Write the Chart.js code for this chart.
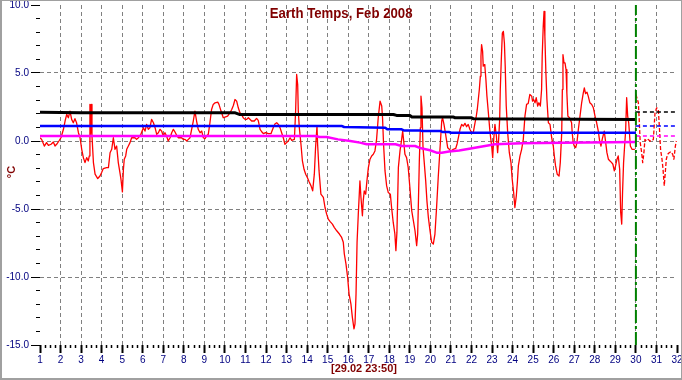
<!DOCTYPE html>
<html>
<head>
<meta charset="utf-8">
<script src="https://cdn.jsdelivr.net/npm/chart.js@4/dist/chart.umd.min.js"></script>
<style>
  body { margin: 0; background: #fff; }
  #wrap { position: relative; width: 682px; height: 380px; overflow: hidden; }
  #chart { position: absolute; left: 0; top: 0; }
  .lbl { position: absolute; color: #800000; font-family: Arial, "Liberation Sans", sans-serif; font-weight: bold; white-space: nowrap; }
  #title { left: 0; width: 682px; top: 4px; text-align: center; font-size: 15px; line-height: 17px; }
  #title span { display: inline-block; transform: scaleX(0.88); }
  #xtitle { left: 364px; top: 362px; font-size: 11px; line-height: 13px; transform: translateX(-50%); }
  #ytitle { left: 11px; top: 172px; font-size: 11px; line-height: 13px; transform: translate(-50%, -50%) rotate(-90deg); }
  #frame { position: absolute; left: 0; top: 0; width: 682px; height: 380px; box-sizing: border-box;
           border: 1px solid #a0a0a0; border-left-width: 2px; border-bottom-width: 2px; pointer-events: none; }
</style>
</head>
<body>
<div id="wrap">
  <canvas id="chart" width="682" height="380"></canvas>
  <div class="lbl" id="title"><span>Earth Temps, Feb 2008</span></div>
  <div class="lbl" id="xtitle">[29.02 23:50]</div>
  <div class="lbl" id="ytitle">°C</div>
  <div id="frame"></div>
</div>
<script>
// measured temps (red), day of month -> °C
let redDays = [1.00,1.08,1.21,1.32,1.41,1.54,1.65,1.73,1.81,1.92,2.02,2.14,2.22,2.30,2.38,2.46,2.54,2.62,2.70,2.78,2.87,2.95,
  3.03,3.11,3.19,3.27,3.35,3.40,3.43,3.46,3.49,3.53,3.60,3.68,3.81,3.92,4.00,4.08,4.24,4.33,4.41,4.49,4.57,4.65,4.73,4.81,4.89,4.94,
  5.01,5.06,5.10,5.17,5.22,5.30,5.38,5.46,5.62,5.70,5.79,5.91,6.03,6.11,6.19,6.27,6.35,6.43,6.52,6.60,6.68,6.76,6.84,6.92,
  7.00,7.08,7.16,7.24,7.33,7.41,7.49,7.57,7.65,7.73,7.89,7.97,8.06,8.14,8.22,8.30,8.38,8.46,8.54,8.62,8.70,8.79,8.87,8.95,
  9.03,9.11,9.19,9.27,9.35,9.43,9.52,9.65,9.71,9.81,9.92,10.03,10.13,10.25,10.33,10.41,10.49,10.57,10.65,10.73,10.81,10.89,10.98,
  11.06,11.14,11.30,11.43,11.54,11.62,11.71,11.79,11.87,11.98,12.11,12.24,12.35,12.44,12.52,12.60,12.68,12.76,12.84,12.92,
  13.00,13.08,13.17,13.25,13.38,13.44,13.49,13.54,13.57,13.62,13.70,13.77,13.85,13.93,14.01,14.09,14.19,14.27,14.35,14.41,14.48,14.51,
  14.58,14.67,14.79,14.87,14.95,15.03,15.11,15.23,15.32,15.44,15.57,15.68,15.76,15.81,15.89,15.97,16.04,16.13,16.20,16.28,16.33,
  16.38,16.43,16.49,16.57,16.62,16.69,16.73,16.78,16.85,16.91,16.98,17.06,17.14,17.22,17.30,17.38,17.46,17.55,17.63,17.67,17.72,
  17.79,17.87,17.95,18.05,18.11,18.19,18.27,18.32,18.37,18.44,18.52,18.60,18.65,18.70,18.76,18.84,18.92,19.00,19.09,19.17,19.25,
  19.33,19.38,19.41,19.46,19.51,19.54,19.59,19.64,19.70,19.77,19.83,19.90,19.98,20.06,20.14,20.22,20.30,20.38,20.46,20.55,20.59,
  20.66,20.74,20.84,20.92,21.00,21.11,21.23,21.30,21.36,21.44,21.52,21.60,21.68,21.76,21.84,21.92,22.01,22.09,22.17,22.22,22.28,
  22.33,22.38,22.43,22.46,22.49,22.54,22.57,22.62,22.65,22.70,22.75,22.82,22.88,22.93,22.98,23.03,23.08,23.14,23.21,23.27,23.32,
  23.37,23.40,23.45,23.50,23.55,23.60,23.64,23.69,23.76,23.84,23.92,23.98,24.05,24.11,24.18,24.23,24.28,24.36,24.44,24.52,24.60,
  24.68,24.76,24.84,24.93,24.97,25.02,25.09,25.15,25.22,25.28,25.35,25.41,25.44,25.49,25.53,25.57,25.62,25.67,25.74,25.82,25.90,
  25.98,26.03,26.09,26.17,26.26,26.32,26.39,26.42,26.45,26.50,26.55,26.60,26.64,26.69,26.77,26.87,26.90,26.95,27.00,27.07,27.13,
  27.20,27.28,27.36,27.44,27.49,27.55,27.62,27.68,27.76,27.85,27.93,28.01,28.09,28.17,28.23,28.30,28.36,28.46,28.53,28.59,28.66,
  28.74,28.82,28.88,28.95,29.01,29.08,29.14,29.21,29.26,29.31,29.35,29.40,29.45,29.50,29.55,29.60,29.65,29.73,29.81,29.95];
let redTemps = [0.24,0.12,-0.37,-0.12,-0.32,-0.24,-0.07,-0.37,-0.24,0.00,0.24,0.86,1.47,1.96,1.71,2.20,1.59,1.34,1.64,1.34,0.61,0.24,
  -0.61,-1.22,-1.59,-1.22,-1.47,-1.10,2.69,0.50,2.69,0.37,-1.59,-2.44,-2.76,-2.57,-2.32,-2.03,-1.96,-1.96,-0.86,-0.61,0.24,-0.61,-0.37,-1.59,-2.32,-2.81,
  -3.74,-2.08,-1.34,-1.10,-0.61,-0.37,-0.12,0.24,0.24,0.12,0.24,0.49,0.98,0.73,1.22,0.86,0.98,1.59,1.34,0.98,0.49,0.61,0.86,0.73,
  0.37,0.61,0.37,0.00,0.24,0.61,0.86,0.66,0.42,0.24,0.24,0.12,0.12,0.00,0.12,0.24,0.86,1.47,2.20,1.47,0.86,0.61,0.73,0.24,
  0.17,0.37,0.49,1.34,2.32,2.69,2.81,2.86,2.69,2.20,1.71,1.78,1.83,2.08,2.32,2.61,3.05,2.93,2.44,2.08,1.96,1.71,1.59,
  1.59,1.71,1.47,1.47,1.66,1.52,0.86,0.68,0.54,0.61,0.54,0.54,0.98,1.27,1.34,1.22,0.98,0.61,0.24,-0.24,
  -0.12,0.00,0.24,0.05,0.12,2.20,4.89,4.15,2.20,0.98,-0.24,-1.47,-2.08,-2.44,-2.69,-2.98,-3.30,-3.67,-2.44,-0.49,1.10,-0.24,
  -2.20,-3.91,-4.15,-4.89,-5.38,-5.74,-5.91,-6.11,-6.35,-6.60,-6.84,-7.09,-7.45,-8.31,-9.04,-10.02,-11.24,-11.97,-12.95,-13.81,-13.44,
  -11.24,-7.45,-5.38,-2.93,-4.15,-5.50,-4.40,-3.67,-3.91,-2.93,-1.96,-1.34,-1.10,-0.98,-0.73,0.12,1.71,2.93,2.57,1.71,-0.24,
  -2.20,-3.30,-3.79,-3.91,-4.89,-5.99,-6.84,-8.06,-6.72,-1.96,-0.73,0.12,0.73,0.00,-0.98,-1.22,-1.96,-3.42,-5.13,-5.86,-6.60,
  -7.70,-6.84,-4.89,-1.47,0.98,3.30,2.44,-0.49,-1.59,-2.93,-4.40,-5.62,-6.60,-7.45,-7.58,-6.84,-4.89,-2.69,-0.73,1.47,1.71,
  1.22,0.49,-0.49,-0.61,-0.73,-0.61,-0.55,-0.20,0.24,0.86,1.22,1.10,1.30,1.05,1.22,0.86,0.61,0.66,1.34,1.71,2.32,
  3.05,3.79,4.77,6.23,7.09,6.60,5.50,5.62,5.50,4.52,3.30,2.08,0.98,0.24,-0.37,-1.22,0.12,1.22,0.37,-0.86,0.12,
  1.59,3.79,5.99,7.94,8.06,7.21,5.50,2.57,0.61,-0.86,-1.59,-2.81,-3.79,-4.89,-4.03,-3.05,-1.83,-1.10,-0.61,0.12,1.83,
  2.69,2.76,3.42,3.30,2.93,3.05,2.81,3.18,2.57,2.81,2.57,3.79,6.23,8.43,9.53,7.70,5.01,3.05,1.34,1.22,0.24,
  -0.37,-1.10,-1.83,-2.44,-2.57,-1.59,0.61,3.79,6.35,5.74,5.74,5.25,3.54,1.83,1.71,1.34,0.61,-0.12,-0.37,-0.49,-0.12,
  0.86,1.83,2.81,3.54,3.91,3.49,3.59,3.30,2.81,2.69,2.44,1.83,1.34,0.73,0.05,-0.37,0.12,0.73,-0.12,-0.86,-1.34,
  -1.47,-1.59,-1.71,-2.20,-1.83,-1.34,-1.10,-2.08,-5.25,-6.11,-3.79,-1.59,-0.37,0.73,3.18,1.83,1.34,-0.37,-0.61,-0.61];

// forecast part after the cut (dotted red)
let redFcDays = [30.00,30.12,30.16,30.21,30.28,30.33,30.39,30.44,30.52,30.60,30.68,30.77,30.85,30.93,31.01,31.09,31.14,31.20,
  31.27,31.32,31.38,31.43,31.48,31.54,31.62,31.71,31.79,31.85,31.92,31.97];
let redFcTemps = [3.42,2.81,1.59,-0.12,-0.86,-1.59,-0.86,0.12,0.00,0.12,0.00,0.00,0.12,2.08,2.44,2.32,1.10,-0.61,
  -1.34,-2.08,-3.30,-2.32,-1.34,-0.98,-0.86,-0.78,-0.98,-1.34,-0.37,0.00];

// running averages
let blackDays = [1, 3, 10.5, 10.7, 18.2, 18.35, 19.0, 19.1, 21.1, 21.2, 22.0, 22.1, 30];
let blackTemps = [2.12, 2.08, 2.07, 1.95, 1.95, 1.88, 1.88, 1.77, 1.77, 1.71, 1.71, 1.63, 1.58];
let blueDays = [1, 15.7, 15.8, 17.8, 17.9, 18.6, 18.7, 19.5, 19.6, 20.5, 20.6, 20.9, 21.0, 30];
let blueTemps = [1.10, 1.10, 1.03, 0.98, 0.86, 0.86, 0.78, 0.78, 0.73, 0.73, 0.66, 0.66, 0.61, 0.61];
let pinkDays = [1, 14.4, 14.6, 14.95, 15.5, 16.1, 16.57, 16.9, 18.3, 18.6, 19.25, 19.55, 19.98, 20.3, 20.55, 20.9, 21.4, 22.17, 23.14, 24.44, 26.4, 30];
let pinkTemps = [0.37, 0.37, 0.29, 0.29, 0.12, 0.0, -0.12, -0.24, -0.24, -0.37, -0.37, -0.54, -0.68, -0.86, -0.86, -0.78, -0.70, -0.49, -0.24, -0.17, -0.12, -0.07];

// forecast levels after the cut
let fcDays = [30, 32];
let blackFc = 2.13, blueFc = 1.10, pinkFc = 0.37;
let cutDay = 30;

let tickFont = { family: 'Arial, "Liberation Sans", sans-serif', size: 10 };
let isWhole = v => Math.abs(v - Math.round(v)) < 1e-6;

function pts(xs, ys) {
    return xs.map((x, i) => ({ x: x, y: ys[i] }));
}
function flat(xs, val) {
    return xs.map(x => ({ x: x, y: val }));
}
function line(data, color, width, dash) {
    return {
        data: data, borderColor: color, backgroundColor: color, borderWidth: width,
        borderDash: dash || [], pointRadius: 0, tension: 0, fill: false, borderJoinStyle: 'round'
    };
}

// first dataset ends up on top
let datasets = [
    line([{ x: cutDay, y: -15 }, { x: cutDay, y: 10 }], '#008000', 2, [13, 3, 3, 3]),
    line(pts(blackDays, blackTemps), '#000000', 3),
    line(pts(blueDays, blueTemps), '#0000ff', 2.5),
    line(pts(pinkDays, pinkTemps), '#ff00ff', 2.5),
    line(flat(fcDays, blackFc), '#000000', 1.5, [4, 3]),
    line(flat(fcDays, blueFc), '#0000ff', 1.5, [4, 3]),
    line(flat(fcDays, pinkFc), '#ff00ff', 1.5, [4, 3]),
    line(pts(redDays, redTemps), '#ff0000', 1.3),
    line(pts(redFcDays, redFcTemps), '#ff0000', 1.3, [4, 2])
];

new Chart(document.getElementById('chart'), {
    type: 'line',
    data: { datasets: datasets },
    options: {
        responsive: false,
        animation: false,
        layout: { padding: { left: 0, right: 5, top: 5, bottom: 0 } },
        plugins: { legend: { display: false }, tooltip: { enabled: false }, title: { display: false } },
        scales: {
            x: {
                type: 'linear', min: 1, max: 32,
                ticks: {
                    stepSize: 0.25, autoSkip: false, maxRotation: 0, minRotation: 0,
                    color: '#000080', font: tickFont, padding: 1,
                    callback: v => isWhole(v) ? String(Math.round(v)) : ''
                },
                grid: {
                    color: ctx => (ctx.tick && isWhole(ctx.tick.value) && ctx.tick.value > 1 && ctx.tick.value < 32) ? '#808080' : 'transparent',
                    lineWidth: 1,
                    tickColor: '#000000',
                    tickLength: 8,
                    tickWidth: ctx => (ctx.tick && isWhole(ctx.tick.value)) ? 2 : 1.5,
                    tickBorderDash: ctx => (ctx.tick && isWhole(ctx.tick.value)) ? [] : [3, 100]
                },
                border: { display: false, dash: [4, 3] },
                afterFit: s => { s.height = 35; s.paddingLeft = 0; s.paddingRight = 0; }
            },
            y: {
                min: -15, max: 10,
                ticks: {
                    stepSize: 1, autoSkip: false, color: '#000080', font: tickFont, padding: 2,
                    callback: v => (v % 5 === 0) ? v.toFixed(1) : ''
                },
                grid: {
                    color: ctx => (ctx.tick && ctx.tick.value % 5 === 0 && ctx.tick.value > -15 && ctx.tick.value < 10) ? '#808080' : 'transparent',
                    lineWidth: 1,
                    tickColor: '#000000',
                    tickLength: 9,
                    tickWidth: 1,
                    tickBorderDash: ctx => (ctx.tick && ctx.tick.value % 5 === 0) ? [] : [0, 5, 4, 100]
                },
                border: { display: false, dash: [4, 3] },
                afterFit: s => { s.width = 40; s.paddingTop = 0; s.paddingBottom = 0; }
            }
        }
    }
});
</script>
</body>
</html>
